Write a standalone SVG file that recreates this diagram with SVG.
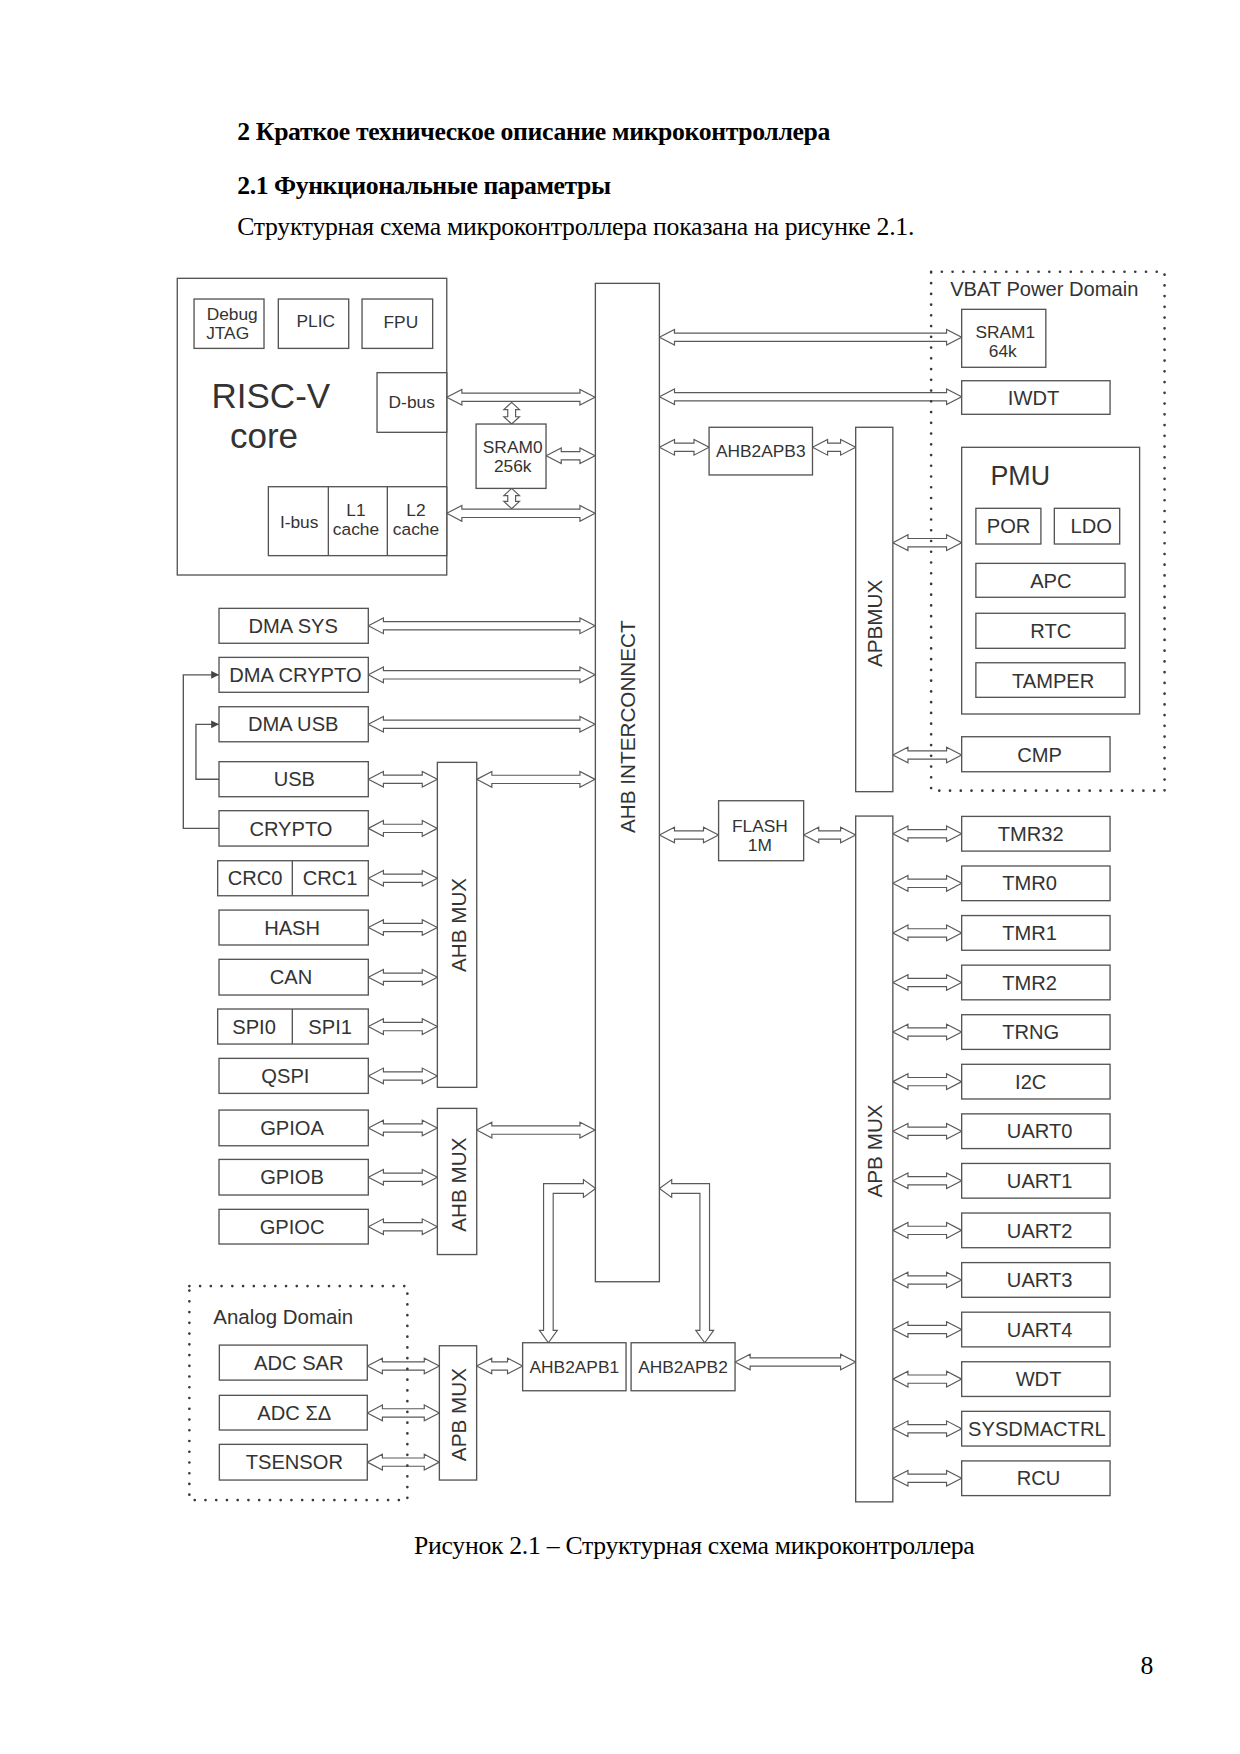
<svg xmlns="http://www.w3.org/2000/svg" width="1240" height="1754" viewBox="0 0 1240 1754">
<style>
.b{fill:#fff;stroke:#555;stroke-width:1.2}
.a{fill:#fff;stroke:#5a5a5a;stroke-width:1.05}
.l{fill:none;stroke:#555;stroke-width:1.2}
.d{fill:none;stroke:#3a3a3a;stroke-width:2.4;stroke-dasharray:0 9.6;stroke-linecap:round}
.t{font-family:"Liberation Sans",Arial,sans-serif;fill:#333;text-anchor:middle;font-size:18px}
.s{font-size:15.5px}
.r{font-size:18.5px}
.h{font-family:"Liberation Serif","Times New Roman",serif;fill:#000;font-size:23px}
</style>
<defs>
<marker id="fa" viewBox="0 0 8 8" refX="8" refY="4" markerWidth="7" markerHeight="7" markerUnits="userSpaceOnUse" orient="auto"><path d="M0 0L8 4L0 8Z" fill="#444"/></marker>
</defs>
<rect width="1240" height="1754" fill="#fff"/>
<g transform="scale(1.11913)">
<g id="page-text">
<text class="h" x="212" y="125.5" font-weight="bold" textLength="530">2 Краткое техническое описание микроконтроллера</text>
<text class="h" x="212" y="173.4" font-weight="bold" textLength="334">2.1 Функциональные параметры</text>
<text class="h" x="212" y="210" textLength="605">Структурная схема микроконтроллера показана на рисунке 2.1.</text>
<text class="h" x="370" y="1389" textLength="501">Рисунок 2.1 – Структурная схема микроконтроллера</text>
<text class="h" x="1019" y="1496">8</text>
</g>

<g id="connectors">
<path class="a" d="M399.2 355l13.5 -7v3.3h105.5v-3.3l13.5 7l-13.5 7v-3.3h-105.5v3.3z"/>
<path class="a" d="M488 407.2l13.5 -7v3.3h16.7v-3.3l13.5 7l-13.5 7v-3.3h-16.7v3.3z"/>
<path class="a" d="M399.2 458.7l13.5 -7v3.3h105.5v-3.3l13.5 7l-13.5 7v-3.3h-105.5v3.3z"/>
<path class="a" d="M457.2 359.5l7 6.5h-3.5v6.4h3.5l-7 6.5l-7 -6.5h3.5v-6.4h-3.5z"/>
<path class="a" d="M457.2 436.4l7 6.5h-3.5v5.1h3.5l-7 6.5l-7 -6.5h3.5v-5.1h-3.5z"/>
<path class="a" d="M589.2 301.4l13.5 -7v3.3h243.1v-3.3l13.5 7l-13.5 7v-3.3h-243.1v3.3z"/>
<path class="a" d="M589.2 354.5l13.5 -7v3.3h243.1v-3.3l13.5 7l-13.5 7v-3.3h-243.1v3.3z"/>
<path class="a" d="M589.2 399.7l13.5 -7v3.3h17.4v-3.3l13.5 7l-13.5 7v-3.3h-17.4v3.3z"/>
<path class="a" d="M726 399.7l13.5 -7v3.3h11.6v-3.3l13.5 7l-13.5 7v-3.3h-11.6v3.3z"/>
<path class="a" d="M797.8 484.9l13.5 -7v3.3h34.5v-3.3l13.5 7l-13.5 7v-3.3h-34.5v3.3z"/>
<path class="a" d="M797.8 674.6l13.5 -7v3.3h34.5v-3.3l13.5 7l-13.5 7v-3.3h-34.5v3.3z"/>
<path class="a" d="M589.2 746.1l13.5 -7v3.3h25.9v-3.3l13.5 7l-13.5 7v-3.3h-25.9v3.3z"/>
<path class="a" d="M718.1 746.1l13.5 -7v3.3h19.5v-3.3l13.5 7l-13.5 7v-3.3h-19.5v3.3z"/>
<path class="a" d="M797.8 745l13.5 -7v3.3h34.5v-3.3l13.5 7l-13.5 7v-3.3h-34.5v3.3z"/>
<path class="a" d="M797.8 789.3l13.5 -7v3.3h34.5v-3.3l13.5 7l-13.5 7v-3.3h-34.5v3.3z"/>
<path class="a" d="M797.8 833.6l13.5 -7v3.3h34.5v-3.3l13.5 7l-13.5 7v-3.3h-34.5v3.3z"/>
<path class="a" d="M797.8 877.9l13.5 -7v3.3h34.5v-3.3l13.5 7l-13.5 7v-3.3h-34.5v3.3z"/>
<path class="a" d="M797.8 922.2l13.5 -7v3.3h34.5v-3.3l13.5 7l-13.5 7v-3.3h-34.5v3.3z"/>
<path class="a" d="M797.8 966.5l13.5 -7v3.3h34.5v-3.3l13.5 7l-13.5 7v-3.3h-34.5v3.3z"/>
<path class="a" d="M797.8 1010.8l13.5 -7v3.3h34.5v-3.3l13.5 7l-13.5 7v-3.3h-34.5v3.3z"/>
<path class="a" d="M797.8 1055.1l13.5 -7v3.3h34.5v-3.3l13.5 7l-13.5 7v-3.3h-34.5v3.3z"/>
<path class="a" d="M797.8 1099.4l13.5 -7v3.3h34.5v-3.3l13.5 7l-13.5 7v-3.3h-34.5v3.3z"/>
<path class="a" d="M797.8 1143.7l13.5 -7v3.3h34.5v-3.3l13.5 7l-13.5 7v-3.3h-34.5v3.3z"/>
<path class="a" d="M797.8 1188l13.5 -7v3.3h34.5v-3.3l13.5 7l-13.5 7v-3.3h-34.5v3.3z"/>
<path class="a" d="M797.8 1232.3l13.5 -7v3.3h34.5v-3.3l13.5 7l-13.5 7v-3.3h-34.5v3.3z"/>
<path class="a" d="M797.8 1276.6l13.5 -7v3.3h34.5v-3.3l13.5 7l-13.5 7v-3.3h-34.5v3.3z"/>
<path class="a" d="M797.8 1320.9l13.5 -7v3.3h34.5v-3.3l13.5 7l-13.5 7v-3.3h-34.5v3.3z"/>
<path class="a" d="M656.8 1217l13.5 -7v3.3h80.8v-3.3l13.5 7l-13.5 7v-3.3h-80.8v3.3z"/>
<path class="a" d="M329.1 559.2l13.5 -7v3.3h175.6v-3.3l13.5 7l-13.5 7v-3.3h-175.6v3.3z"/>
<path class="a" d="M329.1 603l13.5 -7v3.3h175.6v-3.3l13.5 7l-13.5 7v-3.3h-175.6v3.3z"/>
<path class="a" d="M329.1 647.2l13.5 -7v3.3h175.6v-3.3l13.5 7l-13.5 7v-3.3h-175.6v3.3z"/>
<path class="a" d="M426 696.4l13.5 -7v3.3h78.7v-3.3l13.5 7l-13.5 7v-3.3h-78.7v3.3z"/>
<path class="a" d="M329.1 696.3l13.5 -7v3.3h34.7v-3.3l13.5 7l-13.5 7v-3.3h-34.7v3.3z"/>
<path class="a" d="M329.1 740.2l13.5 -7v3.3h34.7v-3.3l13.5 7l-13.5 7v-3.3h-34.7v3.3z"/>
<path class="a" d="M329.1 784.8l13.5 -7v3.3h34.7v-3.3l13.5 7l-13.5 7v-3.3h-34.7v3.3z"/>
<path class="a" d="M329.1 828.8l13.5 -7v3.3h34.7v-3.3l13.5 7l-13.5 7v-3.3h-34.7v3.3z"/>
<path class="a" d="M329.1 873.2l13.5 -7v3.3h34.7v-3.3l13.5 7l-13.5 7v-3.3h-34.7v3.3z"/>
<path class="a" d="M329.1 917.3l13.5 -7v3.3h34.7v-3.3l13.5 7l-13.5 7v-3.3h-34.7v3.3z"/>
<path class="a" d="M329.1 961.4l13.5 -7v3.3h34.7v-3.3l13.5 7l-13.5 7v-3.3h-34.7v3.3z"/>
<path class="a" d="M426 1009.8l13.5 -7v3.3h78.7v-3.3l13.5 7l-13.5 7v-3.3h-78.7v3.3z"/>
<path class="a" d="M329.1 1007.9l13.5 -7v3.3h34.7v-3.3l13.5 7l-13.5 7v-3.3h-34.7v3.3z"/>
<path class="a" d="M329.1 1051.9l13.5 -7v3.3h34.7v-3.3l13.5 7l-13.5 7v-3.3h-34.7v3.3z"/>
<path class="a" d="M329.1 1096.1l13.5 -7v3.3h34.7v-3.3l13.5 7l-13.5 7v-3.3h-34.7v3.3z"/>
<path class="a" d="M328.2 1220.6l13.5 -7v3.3h37.4v-3.3l13.5 7l-13.5 7v-3.3h-37.4v3.3z"/>
<path class="a" d="M328.2 1262.5l13.5 -7v3.3h37.4v-3.3l13.5 7l-13.5 7v-3.3h-37.4v3.3z"/>
<path class="a" d="M328.2 1306.5l13.5 -7v3.3h37.4v-3.3l13.5 7l-13.5 7v-3.3h-37.4v3.3z"/>
<path class="a" d="M425.9 1220.6l13.5 -7v3.3h14.1v-3.3l13.5 7l-13.5 7v-3.3h-14.1v3.3z"/>
<path class="a" d="M532.3 1062L521.3 1054L521.3 1057.7L485.7 1057.7L485.7 1188.8L482 1188.8L490 1199.8L498 1188.8L494.3 1188.8L494.3 1066.3L521.3 1066.3L521.3 1070Z"/>
<path class="a" d="M589.2 1062L600.2 1054L600.2 1057.7L634 1057.7L634 1188.8L637.7 1188.8L629.7 1199.8L621.7 1188.8L625.4 1188.8L625.4 1066.3L600.2 1066.3L600.2 1070Z"/>
<polyline class="l" points="195.7,740.2 163.8,740.2 163.8,603 195.7,603" marker-end="url(#fa)"/>
<polyline class="l" points="195.7,696.3 175.1,696.3 175.1,647.2 195.7,647.2" marker-end="url(#fa)"/>
</g>

<g id="risc-v-core">
<rect class="b" x="158.4" y="248.7" width="240.8" height="265.1"/>
<text class="t" x="189" y="364.9" style="font-size:31.3px;text-anchor:start">RISC-V</text>
<text class="t" x="205.5" y="400.6" style="font-size:31.3px;text-anchor:start">core</text>
</g>
<g id="debug-jtag"><rect class="b" x="173.4" y="267.2" width="62.5" height="44.1"/><text class="t s" x="207.5" y="286">Debug</text><text class="t s" x="203.4" y="303.2">JTAG</text></g>
<g id="plic"><rect class="b" x="248.7" y="267.2" width="62.9" height="44.1"/><text class="t s" x="282.2" y="292.5">PLIC</text></g>
<g id="fpu"><rect class="b" x="323.5" y="267.2" width="63.1" height="44.1"/><text class="t s" x="358.2" y="293">FPU</text></g>
<g id="d-bus"><rect class="b" x="336.9" y="333" width="62.3" height="53.3"/><text class="t s" x="367.9" y="364.9">D-bus</text></g>
<g id="i-bus-cache"><rect class="b" x="239.8" y="434.9" width="159.4" height="61.6"/>
<line class="l" x1="293.4" y1="434.9" x2="293.4" y2="496.5"/><line class="l" x1="346.1" y1="434.9" x2="346.1" y2="496.5"/>
<text class="t s" x="267.3" y="471.5">I-bus</text><text class="t s" x="318.1" y="461.1">L1</text><text class="t s" x="318.1" y="478.1">cache</text><text class="t s" x="371.7" y="461.1">L2</text><text class="t s" x="371.7" y="478.1">cache</text></g>
<g id="sram0"><rect class="b" x="425.4" y="378.9" width="62.5" height="57.5"/><text class="t s" x="458.1" y="404.5">SRAM0</text><text class="t s" x="458.1" y="421.5">256k</text></g>

<g id="ahb-interconnect"><rect class="b" x="532" y="253.2" width="57.2" height="892.1"/><text class="t r" transform="translate(560.5 649.3) rotate(-90)" y="6.6">AHB INTERCONNECT</text></g>

<g id="vbat-domain"><rect class="d" x="832" y="242.8" width="208.6" height="463.7"/><text class="t" x="849" y="264.5" style="text-anchor:start">VBAT Power Domain</text></g>
<g id="sram1"><rect class="b" x="859.3" y="276.4" width="75.2" height="51.8"/><text class="t s" x="898.3" y="302.3">SRAM1</text><text class="t s" x="896" y="319.3">64k</text></g>
<g id="iwdt"><rect class="b" x="859.3" y="340.2" width="132.6" height="30"/><text class="t" x="923.5" y="362.3">IWDT</text></g>
<g id="ahb2apb3"><rect class="b" x="633.6" y="381.8" width="92.4" height="42.6"/><text class="t s" x="679.8" y="408.1">AHB2APB3</text></g>
<g id="apbmux-vbat"><rect class="b" x="764.6" y="381.8" width="33.2" height="325.6"/><text class="t r" transform="translate(781.7 557) rotate(-90)" y="6.6">APBMUX</text></g>
<g id="pmu"><rect class="b" x="859.3" y="399.7" width="159" height="238.3"/><text class="t" x="885" y="433.4" style="font-size:24px;text-anchor:start">PMU</text></g>
<g id="por"><rect class="b" x="872" y="454.2" width="58.1" height="31.9"/><text class="t" x="901.2" y="476.7">POR</text></g>
<g id="ldo"><rect class="b" x="942.1" y="454.2" width="58.4" height="31.9"/><text class="t" x="975" y="476.7">LDO</text></g>
<g id="apc"><rect class="b" x="872" y="503.4" width="133.3" height="30.3"/><text class="t" x="939" y="525.3">APC</text></g>
<g id="rtc"><rect class="b" x="872" y="548" width="133.3" height="31.3"/><text class="t" x="939" y="570.3">RTC</text></g>
<g id="tamper"><rect class="b" x="872" y="592.2" width="133.3" height="30.9"/><text class="t" x="941" y="614.6">TAMPER</text></g>
<g id="cmp"><rect class="b" x="859.3" y="658.3" width="132.6" height="31.3"/><text class="t" x="929" y="680.5">CMP</text></g>
<g id="flash"><rect class="b" x="642.1" y="715.5" width="76" height="53.6"/><text class="t s" x="679" y="743.2">FLASH</text><text class="t s" x="679" y="760.2">1M</text></g>
<g id="apb-mux-main"><rect class="b" x="764.6" y="729.2" width="33.2" height="612.8"/><text class="t r" transform="translate(781.7 1028.4) rotate(-90)" y="6.6">APB MUX</text></g>

<g id="tmr32"><rect class="b" x="859.3" y="729.5" width="132.6" height="31"/><text class="t" x="921" y="751.4">TMR32</text></g>
<g id="tmr0"><rect class="b" x="859.3" y="773.8" width="132.6" height="31"/><text class="t" x="920" y="795.7">TMR0</text></g>
<g id="tmr1"><rect class="b" x="859.3" y="818.1" width="132.6" height="31"/><text class="t" x="920" y="840">TMR1</text></g>
<g id="tmr2"><rect class="b" x="859.3" y="862.4" width="132.6" height="31"/><text class="t" x="920" y="884.3">TMR2</text></g>
<g id="trng"><rect class="b" x="859.3" y="906.7" width="132.6" height="31"/><text class="t" x="921" y="928.6">TRNG</text></g>
<g id="i2c"><rect class="b" x="859.3" y="951" width="132.6" height="31"/><text class="t" x="921" y="972.9">I2C</text></g>
<g id="uart0"><rect class="b" x="859.3" y="995.3" width="132.6" height="31"/><text class="t" x="929" y="1017.2">UART0</text></g>
<g id="uart1"><rect class="b" x="859.3" y="1039.6" width="132.6" height="31"/><text class="t" x="929" y="1061.5">UART1</text></g>
<g id="uart2"><rect class="b" x="859.3" y="1083.9" width="132.6" height="31"/><text class="t" x="929" y="1105.8">UART2</text></g>
<g id="uart3"><rect class="b" x="859.3" y="1128.2" width="132.6" height="31"/><text class="t" x="929" y="1150.1">UART3</text></g>
<g id="uart4"><rect class="b" x="859.3" y="1172.5" width="132.6" height="31"/><text class="t" x="929" y="1194.4">UART4</text></g>
<g id="wdt"><rect class="b" x="859.3" y="1216.8" width="132.6" height="31"/><text class="t" x="928" y="1238.7">WDT</text></g>
<g id="sysdmactrl"><rect class="b" x="859.3" y="1261.1" width="132.6" height="31"/><text class="t" x="926.5" y="1283">SYSDMACTRL</text></g>
<g id="rcu"><rect class="b" x="859.3" y="1305.4" width="132.6" height="31"/><text class="t" x="928" y="1327.3">RCU</text></g>

<g id="dma-sys"><rect class="b" x="195.7" y="543.6" width="133.4" height="31.2"/><text class="t" x="262" y="565.6">DMA SYS</text></g>
<g id="dma-crypto"><rect class="b" x="195.7" y="587.4" width="133.4" height="31.2"/><text class="t" x="264" y="609.4">DMA CRYPTO</text></g>
<g id="dma-usb"><rect class="b" x="195.7" y="631.5" width="133.4" height="31.3"/><text class="t" x="262" y="653.6">DMA USB</text></g>
<g id="usb"><rect class="b" x="195.7" y="680.6" width="133.4" height="31.3"/><text class="t" x="263" y="702.7">USB</text></g>
<g id="crypto"><rect class="b" x="195.7" y="724.4" width="133.4" height="31.6"/><text class="t" x="260" y="746.6">CRYPTO</text></g>
<g id="crc"><rect class="b" x="194.5" y="769.1" width="134.6" height="31.3"/><line class="l" x1="261.2" y1="769.1" x2="261.2" y2="800.4"/><text class="t" x="228" y="791.2">CRC0</text><text class="t" x="295" y="791.2">CRC1</text></g>
<g id="hash"><rect class="b" x="195.7" y="813.2" width="133.4" height="31.2"/><text class="t" x="261" y="835.2">HASH</text></g>
<g id="can"><rect class="b" x="195.7" y="857.2" width="133.4" height="31.9"/><text class="t" x="260" y="879.6">CAN</text></g>
<g id="spi"><rect class="b" x="194.5" y="901.6" width="134.6" height="31.3"/><line class="l" x1="261.2" y1="901.6" x2="261.2" y2="932.9"/><text class="t" x="227" y="923.7">SPI0</text><text class="t" x="295" y="923.7">SPI1</text></g>
<g id="qspi"><rect class="b" x="195.7" y="945.7" width="133.4" height="31.3"/><text class="t" x="255" y="967.8">QSPI</text></g>
<g id="ahb-mux-1"><rect class="b" x="390.8" y="681.2" width="35.2" height="290.4"/><text class="t r" transform="translate(410 826.5) rotate(-90)" y="6.6">AHB MUX</text></g>
<g id="gpioa"><rect class="b" x="195.7" y="991.9" width="133.4" height="31.9"/><text class="t" x="261" y="1014.3">GPIOA</text></g>
<g id="gpiob"><rect class="b" x="195.7" y="1036" width="133.4" height="31.8"/><text class="t" x="261" y="1058.3">GPIOB</text></g>
<g id="gpioc"><rect class="b" x="195.7" y="1080.6" width="133.4" height="31"/><text class="t" x="261" y="1102.5">GPIOC</text></g>
<g id="ahb-mux-2"><rect class="b" x="390.8" y="990.4" width="35.2" height="130.6"/><text class="t r" transform="translate(410 1058.5) rotate(-90)" y="6.6">AHB MUX</text></g>

<g id="analog-domain"><rect class="d" x="169.2" y="1149.2" width="194.8" height="191.2"/><text class="t" x="190.6" y="1183.4" style="text-anchor:start;font-size:18.3px">Analog Domain</text></g>
<g id="adc-sar"><rect class="b" x="196" y="1201.9" width="132.2" height="31.3"/><text class="t" x="267" y="1224">ADC SAR</text></g>
<g id="adc-sd"><rect class="b" x="196" y="1246.8" width="132.2" height="31"/><text class="t" x="263" y="1268.7">ADC ΣΔ</text></g>
<g id="tsensor"><rect class="b" x="196" y="1290.6" width="132.2" height="31.9"/><text class="t" x="263" y="1313">TSENSOR</text></g>
<g id="apb-mux-analog"><rect class="b" x="392.6" y="1202.5" width="33.3" height="120"/><text class="t r" transform="translate(409.5 1264) rotate(-90)" y="6.6">APB MUX</text></g>
<g id="ahb2apb1"><rect class="b" x="467" y="1199.8" width="92.4" height="42.9"/><text class="t s" x="513.2" y="1227">AHB2APB1</text></g>
<g id="ahb2apb2"><rect class="b" x="563.9" y="1199.8" width="92.9" height="42.9"/><text class="t s" x="610.3" y="1227">AHB2APB2</text></g>
</g>
</svg>
